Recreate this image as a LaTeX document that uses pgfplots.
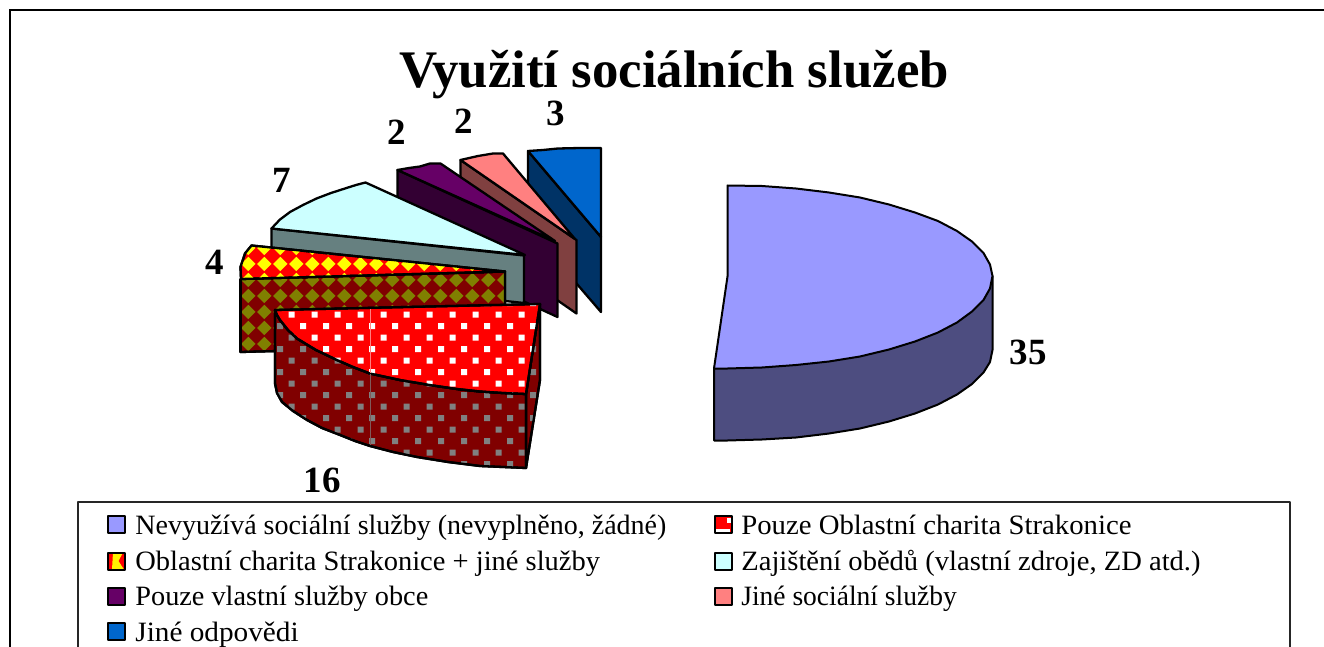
\documentclass[border=0pt]{standalone}
\usepackage{pgfplots}
\pgfplotsset{compat=1.18}
\usepackage{fontspec}
\setmainfont{Liberation Serif}
\usetikzlibrary{patterns}
% 1 px = 0.5 pt
\pgfdeclarepatternformonly{whitedots}{\pgfqpoint{-2pt}{-2pt}}{\pgfqpoint{13.5pt}{13.5pt}}{\pgfqpoint{11.5pt}{11.5pt}}{%
  \pgfpathrectangle{\pgfqpoint{6.35pt}{3.65pt}}{\pgfqpoint{3pt}{3pt}}%
  \pgfpathrectangle{\pgfqpoint{0.6pt}{9.4pt}}{\pgfqpoint{3pt}{3pt}}%
  \pgfusepath{fill}}
\pgfdeclarepatternformonly{diamonds}{\pgfqpoint{0pt}{3.5pt}}{\pgfqpoint{8pt}{11.5pt}}{\pgfqpoint{8pt}{8pt}}{%
  \pgfpathmoveto{\pgfqpoint{0.55pt}{7.5pt}}\pgfpathlineto{\pgfqpoint{4.15pt}{11.1pt}}\pgfpathlineto{\pgfqpoint{7.75pt}{7.5pt}}\pgfpathlineto{\pgfqpoint{4.15pt}{3.9pt}}\pgfpathclose
  \pgfusepath{fill}}
\definecolor{pieA}{HTML}{9999FF}\definecolor{pieAs}{HTML}{4D4D80}
\definecolor{pieD}{HTML}{CCFFFF}\definecolor{pieDs}{HTML}{668080}
\definecolor{pieE}{HTML}{660066}\definecolor{pieEs}{HTML}{330033}
\definecolor{pieF}{HTML}{FF8080}\definecolor{pieFs}{HTML}{804040}
\definecolor{pieG}{HTML}{0066CC}\definecolor{pieGs}{HTML}{003366}
\definecolor{red2}{HTML}{FF0000}\definecolor{red2s}{HTML}{800000}
\definecolor{olive2}{HTML}{808000}\definecolor{grey2}{HTML}{808080}
\begin{document}
\begin{tikzpicture}
\path[use as bounding box] (0,0) rectangle (662pt,323.5pt);
\begin{axis}[at={(0,0)},anchor=south west,scale only axis,width=662pt,height=323.5pt,
  xmin=0,xmax=1324,ymin=0,ymax=647,y dir=reverse,hide axis,
  every axis plot/.append style={mark=none,line width=1.15pt,line join=round,draw=black}]
% frame
\addplot[line width=1.1pt,line join=miter] coordinates {(10,660)(10,10)(1330,10)};
% blue slice
\addplot[fill=pieGs] coordinates {(528,151)(601,237)(601,312)(528,227)} -- cycle;
\addplot[fill=pieG] coordinates {(528,151)(543,150)(558,148.5)(580,148)(601,148)(601,237)} -- cycle;
% pink slice
\addplot[fill=pieFs] coordinates {(460.5,160)(576.5,240)(576.5,313.5)(460.5,233)} -- cycle;
\addplot[fill=pieF] coordinates {(460.5,160)(478,156)(493,153.5)(503,153.5)(575,239)} -- cycle;
% purple slice
\addplot[fill=pieEs] coordinates {(397.5,170)(557.5,243.5)(557.5,317)(397.5,243)} -- cycle;
\addplot[fill=pieE] coordinates {(397.5,170)(409,168)(420,166.5)(430,163.5)(440.5,163.5)(555,241)} -- cycle;
% cyan slice
\addplot[fill=pieDs] coordinates {(271.5,228.5)(524,255.5)(524,303)(271.5,276)} -- cycle;
\addplot[fill=pieD] coordinates {(271.5,228.5)(280,219.5)(290,212)(303,205)(316.5,198.5)(331,193)(346.5,188)(356,185)(365.5,182.5)(525,255)} -- cycle;
% diamond slice
\addplot[fill=red2s,postaction={pattern=diamonds,pattern color=olive2}] coordinates {(240.5,279)(505,271.5)(505,345)(240.5,352)} -- cycle;
\addplot[fill=red2,postaction={pattern=diamonds,pattern color=yellow}] coordinates {(251.5,245.5)(505,271.5)(241,279)(240.5,267)(245,253.5)} -- cycle;
\addplot[line width=1.6pt] coordinates {(240.5,279)(240.5,352)};
% red slice
\addplot[fill=red2s,postaction={pattern=whitedots,pattern color=grey2}] coordinates {(540,304)(540,380)(526,468)(526,394)} -- cycle;
\addplot[fill=red2s,postaction={pattern=whitedots,pattern color=grey2}] coordinates {(275,310)(277,315)(280,320)(288,330)(297,338.5)(316,350)(337,360)(353,367)(370,373.5)(400,380)(433,385.5)(457,389)(480,391.5)(503,393)(526,394)(526,468)(503,467)(480,466)(448,462)(417,457)(393,452)(370,446)(355,441)(340,435)(322,428)(307,420)(293,411)(282,402)(277,393)(275,383.5)} -- cycle;
\addplot[fill=red2,postaction={pattern=whitedots,pattern color=white}] coordinates {(275,310)(540,304)(526,394)(503,393)(480,391.5)(457,389)(433,385.5)(400,380)(370,373.5)(353,367)(337,360)(316,350)(297,338.5)(288,330)(280,320)(277,315)} -- cycle;
\addplot[draw=red2!50!white,line width=0.4pt] coordinates {(370,309)(370,373)};
\addplot[draw=grey2!70!red2s,line width=0.4pt] coordinates {(370,374)(370,445)};
% big slice
\addplot[fill=pieAs,line width=1pt] coordinates {(714,368.5)(714,440.5)(727.5,440.5)(762,439.5)(796,437.5)(829,433.5)(860,428.5)(889,421.5)(915,413.5)(938,404.5)(957,394.5)(972,384)(983.5,372.5)(990,362)(992.5,350)(992.5,276)} -- cycle;
\addplot[fill=pieA,line width=1pt] coordinates {(727.5,185.5)(762,186)(796,188.5)(829,192.5)(860,197.5)(889,204.5)(915,212.5)(938,221)(957,231)(972,241.5)(983.5,253)(990,264.5)(992.5,276)(990,288.5)(983.5,300)(972,311.5)(957,322.5)(938,332.5)(915,341.5)(889,349.5)(860,356.5)(829,361.5)(796,365)(762,367.5)(727.5,368.5)(714,368.5)(727.5,276.5)} -- cycle;
% legend
\addplot[line width=0.6pt,draw=black!85] coordinates {(78,660)(78,502)(1290,502)(1290,660)};
\addplot[fill=pieA,line width=1pt] coordinates {(108,516)(125,516)(125,533)(108,533)} -- cycle;
\addplot[fill=red2,draw=none] coordinates {(715,516)(732,516)(732,533)(715,533)} -- cycle;
\addplot[fill=white,draw=none] coordinates {(726.5,518)(731.5,518)(731.5,523)(726.5,523)} -- cycle;
\addplot[fill=white,draw=none] coordinates {(716,529)(730,529)(730,532)(716,532)} -- cycle;
\addplot[line width=1pt] coordinates {(715,516)(732,516)(732,533)(715,533)} -- cycle;
\addplot[fill=red2,draw=none] coordinates {(108,552.5)(125,552.5)(125,569.5)(108,569.5)} -- cycle;
\addplot[fill=yellow,draw=none] coordinates {(113,552.5)(123,552.5)(118.5,561)(124,569.5)(112,569.5)} -- cycle;
\addplot[line width=1pt] coordinates {(108,552.5)(125,552.5)(125,569.5)(108,569.5)} -- cycle;
\addplot[fill=pieD,line width=1pt] coordinates {(715,552.5)(732,552.5)(732,569.5)(715,569.5)} -- cycle;
\addplot[fill=pieE,line width=1pt] coordinates {(108,587.5)(125,587.5)(125,604.5)(108,604.5)} -- cycle;
\addplot[fill=pieF,line width=1pt] coordinates {(715,587.5)(732,587.5)(732,604.5)(715,604.5)} -- cycle;
\addplot[fill=pieG,line width=1pt] coordinates {(108,623)(125,623)(125,640)(108,640)} -- cycle;
\tikzset{lg/.style={anchor=base west,inner sep=0pt,font=\fontsize{14}{14}\selectfont},
 num/.style={anchor=center,inner sep=0pt,font=\fontsize{18.5}{18.5}\selectfont\bfseries}}
\node[lg] at (axis cs:135,534) {Nevyužívá sociální služby (nevyplněno, žádné)};
\node[lg] at (axis cs:741,534) {\scalebox{1.026}[1]{Pouze Oblastní charita Strakonice}};
\node[lg] at (axis cs:135,570) {\scalebox{1.0175}[1]{Oblastní charita Strakonice + jiné služby}};
\node[lg] at (axis cs:741,570) {\scalebox{1.02}[1]{Zajištění obědů (vlastní zdroje, ZD atd.)}};
\node[lg] at (axis cs:135,605) {\scalebox{1.01}[1]{Pouze vlastní služby obce}};
\node[lg] at (axis cs:741,605) {\scalebox{0.982}[1]{Jiné sociální služby}};
\node[lg] at (axis cs:135,641) {\scalebox{1.045}[1]{Jiné odpovědi}};
\node[anchor=base,inner sep=0pt,font=\fontsize{26.4}{26.4}\selectfont\bfseries] at (axis cs:674,88) {Využití sociálních služeb};
\node[num] at (axis cs:1028,352) {35};
\node[num] at (axis cs:322,480) {16};
\node[num] at (axis cs:215,262) {4};
\node[num] at (axis cs:282,180) {7};
\node[num] at (axis cs:397,132) {2};
\node[num] at (axis cs:464,121) {2};
\node[num] at (axis cs:556,113) {3};
\end{axis}
\end{tikzpicture}
\end{document}
